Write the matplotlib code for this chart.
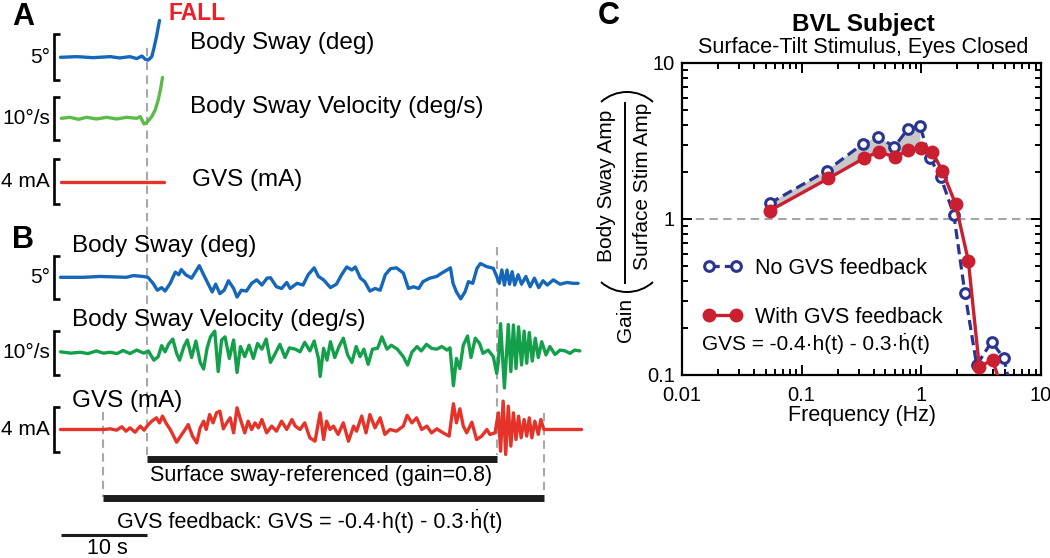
import numpy as np
import matplotlib
matplotlib.use('Agg')
import matplotlib.pyplot as plt
from matplotlib.patches import Arc
from matplotlib.ticker import LogLocator, NullFormatter

plt.rcParams['font.family'] = ['Liberation Sans', 'DejaVu Sans']

# ---------------- data: panel A (time s, value) ----------------
A_SWAY = [(0.0, 0.0), (1.9, 0.07), (3.8, -0.04), (5.8, 0.07), (6.9, -0.07), (8.1, 0.07),
          (8.9, -0.14), (9.5, 0.14), (9.9, -0.22), (10.25, -0.29), (10.65, 0.07),
          (10.9, 0.98), (11.2, 2.25), (11.55, 4.0)]
A_VEL = [(0.1, 0.0), (1.1, 0.23), (2.1, -0.23), (3.05, 0.23), (4.2, -0.16), (5.4, 0.23),
         (6.55, -0.16), (7.7, 0.23), (8.9, 0.0), (9.3, 0.39), (9.75, -1.32), (10.05, -1.01),
         (10.65, 0.39), (11.05, 1.94), (11.4, 4.26), (11.7, 7.0), (11.9, 9.5)]
A_GVS = [(0.1, 0.0), (12.1, 0.0)]

# ---------------- data: panel B (time s, value) ----------------
B_SWAY = [(0.0, 0.0), (2.7, 0.0), (4.6, 0.1), (7.7, 0.0), (8.5, 0.2), (9.6, 0.1), (10.2, 0.0),
          (10.8, -0.7), (11.3, -1.5), (11.8, -1.2), (12.2, -1.6), (12.8, -0.7), (13.4, 0.6),
          (13.8, 0.3), (14.1, 0.9), (14.6, 0.3), (15.3, -0.1), (16.2, 1.35), (16.7, 0.3),
          (17.3, -0.9), (17.7, -1.7), (18.1, -0.8), (18.6, -1.9), (19.1, -1.5), (19.6, -0.4),
          (20.2, -1.3), (20.6, -2.3), (21.1, -1.5), (21.7, -1.6), (22.3, -0.7), (22.9, -0.3),
          (23.5, -0.9), (24.1, -0.1), (24.5, -0.05), (25.2, -1.1), (25.8, -1.3), (26.4, -0.6),
          (26.8, -1.3), (27.6, -0.7), (28.3, -0.9), (28.9, 0.3), (29.6, 1.1), (30.1, 0.1),
          (30.7, -0.3), (31.5, -1.2), (32.2, -0.8), (32.8, 0.3), (33.4, 1.2), (34.0, 0.85),
          (34.4, 1.2), (35.0, -0.1), (35.5, -0.5), (36.1, -1.6), (36.7, -1.3), (37.3, -1.5),
          (37.9, 0.3), (38.5, 1.0), (39.2, 1.1), (40.0, 0.5), (40.6, -1.3), (41.2, -1.1),
          (41.8, -1.3), (42.3, -0.5), (43.1, -0.1), (43.9, 0.1), (44.5, 0.5), (45.1, 0.85),
          (45.5, 1.1), (45.8, -0.7), (46.2, -1.7), (46.7, -2.5), (47.2, -1.7), (47.6, -0.5),
          (48.1, -0.7), (48.6, 1.05), (49.0, 1.6), (49.7, 1.25), (50.5, 1.05), (50.9, 0.1),
          (51.2, -0.7), (51.5, 0.85), (51.8, -0.9), (52.1, 0.85), (52.4, -0.8), (52.7, 0.65),
          (53.0, -0.9), (53.4, 0.3), (53.8, -0.8), (54.3, 0.1), (54.8, -1.1), (55.3, -0.1),
          (55.8, -1.2), (56.3, -0.4), (56.8, -0.9), (57.5, -0.3), (58.3, -0.8), (59.1, -0.6),
          (59.8, -0.7), (60.4, -0.7)]
B_VEL = [(0.0, 0.2), (1.2, -0.1), (2.3, 0.1), (3.2, -0.2), (4.2, 0.4), (5.0, -0.1), (5.8, 0.1),
         (6.6, -0.2), (7.3, 0.5), (8.1, -0.2), (8.9, 0.6), (9.7, -0.1), (10.25, 0.4),
         (10.9, -1.7), (11.4, -0.9), (11.8, 1.6), (12.2, 0.2), (12.6, 1.9), (13.1, 3.1),
         (13.55, -0.15), (13.9, -1.7), (14.4, 1.4), (14.8, 2.9), (15.3, -1.1), (15.8, 2.65),
         (16.3, -2.2), (16.7, -3.7), (17.1, 1.0), (17.5, 3.6), (18.0, 4.9), (18.4, -4.3),
         (18.8, 2.9), (19.2, 3.6), (19.7, -1.3), (20.2, 2.9), (20.6, -4.5), (21.0, 1.4),
         (21.5, -0.9), (22.0, 1.7), (22.5, -1.3), (23.0, 2.1), (23.5, 0.8), (24.0, 3.1),
         (24.5, -2.2), (25.0, -0.4), (25.6, 1.9), (26.2, -1.1), (26.7, 1.1), (27.4, 0.8),
         (27.95, 0.2), (28.5, 2.35), (29.1, 0.4), (29.6, 2.65), (30.1, -1.3), (30.3, -5.4),
         (30.7, 1.0), (31.1, -1.7), (31.5, 2.5), (32.0, -1.1), (32.5, 1.4), (33.0, 3.3),
         (33.5, -0.5), (34.0, -2.2), (34.5, 1.4), (34.95, -0.9), (35.4, 0.8), (35.9, -2.65),
         (36.4, 0.8), (37.0, 1.0), (37.5, 3.6), (38.1, 0.8), (38.6, 1.7), (39.3, 0.8),
         (40.0, -0.9), (40.5, -2.8), (41.0, 0.1), (41.6, 1.4), (42.1, 0.4), (42.7, 1.9),
         (43.3, 1.0), (43.9, 0.8), (44.5, 1.4), (45.1, 0.6), (45.45, 1.1), (45.85, -7.5),
         (46.2, -1.3), (46.6, -3.6), (47.0, 1.7), (47.5, 3.8), (47.9, -1.1), (48.4, 3.3),
         (48.9, 2.1), (49.3, -0.15), (49.9, 0.6), (50.5, -0.9), (50.9, -4.7), (51.1, -1.9),
         (51.35, 6.6), (51.8, -8.0), (52.25, 6.4), (52.55, -4.3), (52.85, 6.3), (53.15, -3.6),
         (53.45, 5.9), (53.8, -2.8), (54.1, 4.9), (54.4, -2.4), (54.7, 4.6), (55.05, -1.9),
         (55.4, 3.3), (55.75, -1.1), (56.15, 2.5), (56.65, -0.5), (57.1, 1.4), (57.7, -0.4),
         (58.3, 0.6), (58.9, 0.4), (59.45, -0.15), (60.0, 0.6), (60.6, 0.4)]
B_GVS = [(0.0, 0.0), (5.0, 0.0), (5.8, 0.06), (6.55, -0.06), (7.15, 0.24), (7.65, -0.15),
         (8.1, 0.15), (8.7, -0.24), (9.3, 0.3), (9.75, -0.06), (10.25, 0.44), (10.65, 0.74),
         (11.2, 1.04), (11.55, 0.59), (11.9, 1.19), (12.3, 0.59), (12.8, 0.0), (13.2, -0.59),
         (13.55, -1.13), (14.15, -0.44), (14.55, 0.0), (14.9, 0.44), (15.4, -0.59),
         (15.9, -1.19), (16.3, 0.15), (16.7, 0.74), (17.0, 0.0), (17.4, 1.33), (17.8, 0.59),
         (18.2, 1.48), (18.6, 1.63), (19.0, 0.06), (19.4, 0.59), (19.8, 1.04), (20.2, -0.3),
         (20.6, 1.93), (21.0, 0.89), (21.5, -0.3), (21.9, 0.74), (22.3, 0.0), (22.7, 0.59),
         (23.1, 0.15), (23.5, 0.89), (24.05, -0.3), (24.65, 0.3), (25.2, -0.15), (25.8, 0.74),
         (26.4, 0.0), (27.0, 0.89), (27.4, 0.3), (27.95, 0.0), (28.5, 0.59), (29.1, -0.74),
         (29.7, -1.04), (30.3, 1.48), (30.7, -0.89), (31.05, 0.74), (31.45, 0.0), (31.85, 0.3),
         (32.4, -0.44), (33.0, 0.59), (33.6, -1.04), (34.2, 0.3), (34.55, -0.15), (35.15, 1.19),
         (35.65, -0.3), (36.1, 1.33), (36.7, 0.15), (37.3, 1.04), (37.85, -0.44), (38.45, 0.0),
         (39.2, -0.15), (40.0, 0.3), (40.45, 1.26), (41.0, 0.59), (41.55, 1.04), (42.15, 0.0),
         (42.75, 0.3), (43.3, -0.3), (43.9, 0.06), (44.65, -0.3), (45.35, -0.59), (45.85, 2.29),
         (46.2, 0.59), (46.6, 1.84), (47.0, 0.3), (47.4, -0.3), (48.0, 0.65), (48.55, -0.89),
         (49.15, -0.59), (49.75, 0.0), (50.1, -0.44), (50.7, -0.3), (51.1, 1.48), (51.35, -1.93),
         (51.65, 2.52), (51.95, -2.22), (52.25, 2.07), (52.55, -1.48), (52.85, 1.48),
         (53.15, -0.89), (53.45, 1.19), (53.75, -0.74), (54.1, 0.89), (54.4, -0.59),
         (54.7, 1.04), (55.0, -0.74), (55.35, 0.74), (55.75, -0.44), (56.05, 0.89), (56.4, 0.0),
         (57.9, 0.0), (60.8, 0.0)]

# event times (s)
GVS_ON, SURF_ON, SURF_OFF, GVS_OFF = 5.0, 10.1, 50.9, 56.4
SCALE_LEN = 10

# ---------------- data: panel C ----------------
freq_nogvs = [0.054, 0.162, 0.324, 0.434, 0.594, 0.769, 0.973, 1.18, 1.45, 1.87, 2.31, 2.90, 3.87, 4.90, 5.9]
gain_nogvs = [1.26, 2.04, 3.03, 3.37, 2.90, 3.76, 3.95, 2.45, 1.87, 1.06, 0.337, 0.116, 0.163, 0.128, 0.067]
freq_gvs = [0.054, 0.167, 0.331, 0.44, 0.605, 0.778, 0.986, 1.23, 1.50, 1.93, 2.47, 3.05, 3.94, 4.9]
gain_gvs = [1.13, 1.82, 2.45, 2.70, 2.49, 2.77, 2.87, 2.70, 2.03, 1.25, 0.54, 0.113, 0.125, 0.074]

# ---------------- figure ----------------
W, H = 1050, 558
fig = plt.figure(figsize=(10.5, 5.58), dpi=100)
fig.patch.set_facecolor('white')


def px_axes(x0, y0, x1, y1):
    return fig.add_axes([x0 / W, 1 - y1 / H, (x1 - x0) / W, (y1 - y0) / H])


def ftext(x, y, s, **kw):
    fig.text(x / W, 1 - y / H, s, **kw)


PXS = 8.57   # px per second
X0 = 60.5    # px of t = 0
LEFT_W = 680
TLIM = (-X0 / PXS, (LEFT_W - X0) / PXS)

BLUE = '#1666b9'
GREEN_A = '#5cba48'
GREEN_B = '#14a04a'
RED = '#e5332a'
DASH_GRAY = '#a8a8a8'
BAR = '#1c1c1c'

# timeline axes: x in seconds, y in pixel rows
tl = px_axes(0, 0, LEFT_W, H)
tl.set_xlim(*TLIM)
tl.set_ylim(H, 0)
tl.axis('off')
dash = dict(color=DASH_GRAY, lw=1.5, ls=(0, (4, 2.6)), clip_on=False)
tl.plot([SURF_ON, SURF_ON], [48, 458], **dash)
tl.plot([GVS_ON, GVS_ON], [412, 497], **dash)
tl.plot([SURF_OFF, SURF_OFF], [247, 455], **dash)
tl.plot([GVS_OFF, GVS_OFF], [413, 495], **dash)
tl.plot([SURF_ON, SURF_OFF], [458.5, 458.5], color=BAR, lw=5, solid_capstyle='butt')
tl.plot([GVS_ON, GVS_OFF], [497.5, 497.5], color=BAR, lw=5, solid_capstyle='butt')
tl.plot([0.05, 0.05 + SCALE_LEN], [535, 535], color=BAR, lw=2.2, solid_capstyle='butt')


def trace(data, baseline_px, px_per_unit, color, size, label):
    half = 60
    ax = px_axes(0, baseline_px - half, LEFT_W, baseline_px + half)
    ax.set_xlim(*TLIM)
    ax.set_ylim(-half / px_per_unit, half / px_per_unit)
    ax.axis('off')
    t, v = zip(*data)
    ax.plot(t, v, color=color, lw=2.4, solid_joinstyle='round', solid_capstyle='round', clip_on=False)
    tb, tk = -0.76, 0.7
    h = size / 2
    ax.plot([tb + tk, tb, tb, tb + tk], [h, h, -h, -h], color='k', lw=1.9, clip_on=False,
            solid_joinstyle='miter', solid_capstyle='butt')
    ax.text(tb - 0.45, 0, label, ha='right', va='center', fontsize=15)
    return ax


trace(A_SWAY, 57.3, 9.2, BLUE, 5, '5°')
trace(A_VEL, 118.3, 4.3, GREEN_A, 10, '10°/s')
trace(A_GVS, 181.7, 11.25, RED, 4, '4 mA')
trace(B_SWAY, 277.3, 8.6, BLUE, 5, '5°')
trace(B_VEL, 352.7, 4.4, GREEN_B, 10, '10°/s')
trace(B_GVS, 429.5, 11.25, RED, 4, '4 mA')

# text in left panels
LBL = 17.5
ftext(23, 17, 'A', fontsize=22, fontweight='bold', ha='center', va='center')
ftext(23, 240, 'B', fontsize=22, fontweight='bold', ha='center', va='center')
ftext(197, 14, 'FALL', fontsize=16.5, fontweight='bold', color='#e8202a', ha='center', va='center')
ftext(190, 43, 'Body Sway (deg)', fontsize=LBL, ha='left', va='center')
ftext(190, 107, 'Body Sway Velocity (deg/s)', fontsize=LBL, ha='left', va='center')
ftext(192, 180, 'GVS (mA)', fontsize=LBL, ha='left', va='center')
ftext(72, 246, 'Body Sway (deg)', fontsize=LBL, ha='left', va='center')
ftext(72, 320, 'Body Sway Velocity (deg/s)', fontsize=LBL, ha='left', va='center')
ftext(72, 401, 'GVS (mA)', fontsize=LBL, ha='left', va='center')
ftext(321, 475, 'Surface sway-referenced (gain=0.8)', fontsize=15.5, ha='center', va='center')
ftext(310, 521, 'GVS feedback: GVS = -0.4·h(t) - 0.3·ḣ(t)', fontsize=15.5, ha='center', va='center')
ftext(107, 548, '10 s', fontsize=15.5, ha='center', va='center')

# ---------------- panel C ----------------
BLUE_C = '#29358f'
RED_C = '#c91f31'
axC = px_axes(682, 63, 1041, 375)
axC.set_xscale('log')
axC.set_yscale('log')
axC.set_xlim(0.01, 10)
axC.set_ylim(0.1, 10)
axC.set_xticks([0.01, 0.1, 1, 10], ['0.01', '0.1', '1', '10'])
axC.set_yticks([0.1, 1, 10], ['0.1', '1', '10'])
for a in (axC.xaxis, axC.yaxis):
    a.set_minor_locator(LogLocator(base=10, subs=np.arange(2, 10)))
    a.set_minor_formatter(NullFormatter())
axC.tick_params(which='both', direction='in', top=True, right=True, width=1.4, labelsize=14.5)
axC.tick_params(which='major', length=7, pad=5)
axC.tick_params(which='minor', length=4)
axC.tick_params(axis='x', which='major', pad=8)
for s in axC.spines.values():
    s.set_linewidth(1.6)
axC.axhline(1.0, color='#a6a6a6', lw=1.5, ls=(0, (4, 2.6)), zorder=1)

k = 7
axC.fill(np.r_[freq_nogvs[:k], freq_gvs[:k][::-1]], np.r_[gain_nogvs[:k], gain_gvs[:k][::-1]],
         color='#c8c8c8', lw=0, zorder=2)
hb, = axC.plot(freq_nogvs, gain_nogvs, color=BLUE_C, lw=2.3, ls=(0, (3.2, 1.6)), marker='o',
               ms=7, mfc='white', mec=BLUE_C, mew=2.2, zorder=3, label='No GVS feedback')
hr, = axC.plot(freq_gvs, gain_gvs, color=RED_C, lw=2.4, marker='o', ms=9, mfc=RED_C, mec=RED_C,
               zorder=4, label='With GVS feedback')
axC.legend(handles=[hb, hr], loc='upper left', bbox_to_anchor=(703 / W, 1 - 258 / H),
           bbox_transform=fig.transFigure, frameon=False, numpoints=2, handlelength=1.85,
           handletextpad=0.55, labelspacing=1.28, borderpad=0, borderaxespad=0, fontsize=15.5)
ftext(702, 343, 'GVS = -0.4·h(t) - 0.3·ḣ(t)', fontsize=15, ha='left', va='center')

ftext(862, 415, 'Frequency (Hz)', fontsize=15.5, ha='center', va='center')
ftext(863, 25, 'BVL Subject', fontsize=17.5, fontweight='bold', ha='center', va='center')
ftext(863, 48, 'Surface-Tilt Stimulus, Eyes Closed', fontsize=15.5, ha='center', va='center')
ftext(609, 16, 'C', fontsize=22, fontweight='bold', ha='center', va='center')

# y label of C
ftext(625, 320, 'Gain', fontsize=15, rotation=90, ha='center', va='center')
ftext(607, 186, 'Body Sway Amp', fontsize=15, rotation=90, ha='center', va='center')
ftext(643, 186, 'Surface Stim Amp', fontsize=15, rotation=90, ha='center', va='center')
ov = fig.add_axes([0, 0, 1, 1])
ov.set_xlim(0, W)
ov.set_ylim(H, 0)
ov.axis('off')
ov.plot([625, 625], [103, 283], color='k', lw=1.4)
R = 38.8
ov.add_patch(Arc((627, 253.2), 2 * R, 2 * R, theta1=48, theta2=132, color='k', lw=1.4))
ov.add_patch(Arc((627, 130.8), 2 * R, 2 * R, theta1=228, theta2=312, color='k', lw=1.4))

fig.savefig('out.png', dpi=100, facecolor='white')
